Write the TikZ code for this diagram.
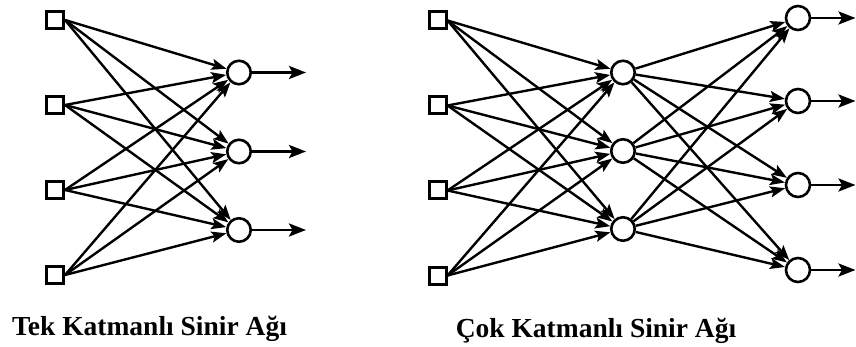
\documentclass[tikz,border=0pt]{standalone}
\usepackage{fontspec}
\setmainfont{Liberation Serif}
\usetikzlibrary{arrows.meta}
\begin{document}
\begin{tikzpicture}[x=1pt,y=-1pt,
  inp/.style={draw, line width=3pt, minimum size=17pt, inner sep=0pt},
  neu/.style={draw, circle, line width=2.6pt, minimum size=23.5pt, inner sep=0pt},
  link/.style={line width=2.4pt, -{Stealth[length=15pt,width=11pt,inset=3pt]}},
  outp/.style={line width=2.8pt, -{Stealth[length=17pt,width=13pt,inset=3.5pt]}},
  caption/.style={font=\bfseries\fontsize{27.5}{30}\selectfont, anchor=base, inner sep=0pt}]
\useasboundingbox (0,0) rectangle (856,347);

% ---- single-layer network ----
\foreach \i/\y in {1/20,2/105,3/190,4/275}
  \node[inp] (a\i) at (55,\y) {};
\foreach \j/\y in {1/72.5,2/151.5,3/230}{
  \node[neu] (b\j) at (239,\y) {};
  \coordinate (bo\j) at (306,\y);
}
\foreach \i in {1,...,4}
  \foreach \j in {1,2,3}
    \draw[link] (a\i.east) -- (b\j);
\foreach \j in {1,2,3}
  \draw[outp] (b\j) -- (bo\j);
\node[caption] (t1) at (149.5,335) {Tek Katmanlı Sinir Ağı};

% ---- multi-layer network ----
\foreach \i/\y in {1/20.5,2/105.5,3/190.5,4/275.5}
  \node[inp] (c\i) at (437.5,\y) {};
\foreach \j/\y in {1/72.5,2/151,3/229}
  \node[neu] (d\j) at (623,\y) {};
\foreach \k/\y in {1/18,2/101,3/185,4/270}{
  \node[neu, minimum size=24pt] (e\k) at (798,\y) {};
  \coordinate (eo\k) at (855.5,\y);
}
\foreach \i in {1,...,4}
  \foreach \j in {1,2,3}
    \draw[link] (c\i.east) -- (d\j);
\foreach \j in {1,2,3}
  \foreach \k in {1,...,4}
    \draw[link] (d\j) -- (e\k);
\foreach \k in {1,...,4}
  \draw[outp] (e\k) -- (eo\k);
\node[caption] (t2) at (596,337) {Çok Katmanlı Sinir Ağı};
\end{tikzpicture}
\end{document}
